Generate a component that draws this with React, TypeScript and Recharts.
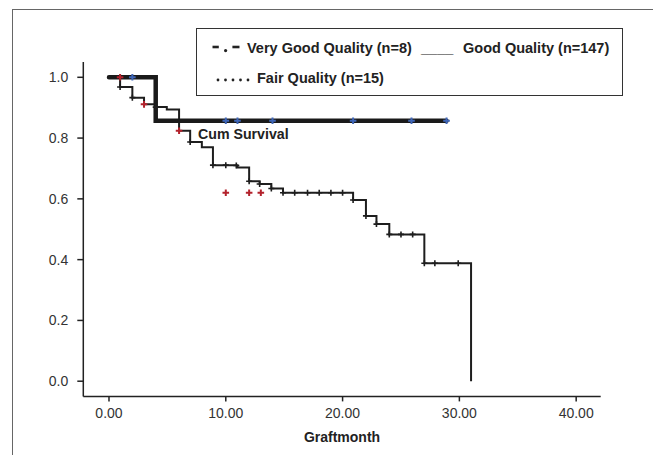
import React from 'react';
import { ComposedChart, Line, Scatter, XAxis, YAxis, Legend, Label } from 'recharts';

// Good Quality (n=147) survival steps
const goodTimes = [0, 0.95, 2, 3, 4, 4.95, 6, 6.95, 7.95, 8.9, 11, 12, 12.9, 13.9, 14.9, 20.9, 22, 22.9, 24, 27, 31];
const goodSurv = [1.0, 0.968, 0.933, 0.911, 0.902, 0.894, 0.824, 0.787, 0.77, 0.711, 0.703, 0.658, 0.649, 0.634, 0.62, 0.596, 0.544, 0.517, 0.483, 0.388, 0];

// Very Good Quality (n=8)
const veryGoodTimes = [0, 4, 28.9];
const veryGoodSurv = [1.0, 0.857, 0.857];

// Censor marks
const goodCensorTimes = [0.95, 2, 4, 6.95, 8.9, 10, 10.9, 12, 12.9, 13.9, 14.9, 15.9, 17, 18, 19, 20, 20.9, 22, 22.9, 24, 25, 26, 27, 27.9, 29.9];
const goodCensorSurv = [0.968, 0.933, 0.902, 0.787, 0.711, 0.711, 0.71, 0.658, 0.649, 0.634, 0.62, 0.62, 0.62, 0.62, 0.62, 0.62, 0.596, 0.544, 0.517, 0.483, 0.483, 0.483, 0.388, 0.388, 0.388];

const veryGoodCensorTimes = [2, 10, 11, 14, 20.9, 25.9, 28.9];
const veryGoodCensorSurv = [1.0, 0.857, 0.857, 0.857, 0.857, 0.857, 0.857];

const fairCensorTimes = [0.95, 3, 6, 10, 12, 13];
const fairCensorSurv = [1.0, 0.911, 0.824, 0.62, 0.62, 0.62];

const xTicks = [0, 10, 20, 30, 40];
const yTicks = [0, 0.2, 0.4, 0.6, 0.8, 1.0];

const zip = (ts: number[], ss: number[]) => ts.map((t, i) => ({ t, s: ss[i] }));

const goodData = zip(goodTimes, goodSurv);
const veryGoodData = zip(veryGoodTimes, veryGoodSurv);
const goodCensorData = zip(goodCensorTimes, goodCensorSurv);
const veryGoodCensorData = zip(veryGoodCensorTimes, veryGoodCensorSurv);
const fairCensorData = zip(fairCensorTimes, fairCensorSurv);

const FONT = '"Liberation Sans", Arial, Helvetica, sans-serif';

const makeCross = (color: string, size: number, sw: number) => (props: any) => {
  const { cx, cy } = props;
  if (cx == null || cy == null) return <g />;
  return (
    <path
      d={`M${cx - size},${cy}H${cx + size}M${cx},${cy - size}V${cy + size}`}
      stroke={color}
      strokeWidth={sw}
      fill="none"
    />
  );
};

const txt: React.CSSProperties = {
  position: 'absolute',
  fontFamily: FONT,
  fontWeight: 700,
  fontSize: 14.5,
  lineHeight: '16px',
  color: '#222',
  whiteSpace: 'nowrap',
};

const renderLegend = () => (
  <div
    style={{
      position: 'relative',
      width: 427,
      height: 68,
      border: '1.5px solid #333',
      boxSizing: 'border-box',
      background: '#fff',
    }}
  >
    <svg style={{ position: 'absolute', left: 15, top: 14 }} width={32} height={12}>
      <line x1={0.5} y1={4} x2={6.8} y2={4} stroke="#222" strokeWidth={2.6} />
      <circle cx={13.6} cy={7.6} r={1.6} fill="#222" />
      <line x1={20.4} y1={4} x2={27.5} y2={4} stroke="#222" strokeWidth={2.6} />
    </svg>
    <span style={{ ...txt, left: 50, top: 11 }}>Very Good Quality (n=8)</span>
    <span style={{ ...txt, left: 224, top: 11 }}>____</span>
    <span style={{ ...txt, left: 266, top: 11 }}>Good Quality (n=147)</span>
    <svg style={{ position: 'absolute', left: 18, top: 46 }} width={40} height={10}>
      {[0, 1, 2, 3, 4].map((i) => (
        <circle key={i} cx={3 + i * 7.5} cy={5} r={1.4} fill="#222" />
      ))}
    </svg>
    <span style={{ ...txt, left: 60, top: 41 }}>Fair Quality (n=15)</span>
  </div>
);

export default function App() {
  return (
    <div style={{ position: 'relative', width: 653, height: 447, overflow: 'hidden', fontFamily: FONT, background: '#fff' }}>
      <ComposedChart
        width={653}
        height={447}
        margin={{ top: 54.1, right: 60.3, bottom: 8.6, left: 15.3 }}
      >
        <XAxis
          dataKey="t"
          type="number"
          domain={[-2.2, 42.1]}
          ticks={xTicks}
          tickFormatter={(v: number) => v.toFixed(2)}
          height={50}
          tickSize={5}
          tickMargin={7}
          stroke="#222"
          strokeWidth={1.5}
          tick={{ fill: '#333', fontSize: 14, fontFamily: FONT }}
        >
          <Label
            value="Graftmonth"
            position="insideBottom"
            offset={4.4}
            style={{ fontWeight: 700, fontSize: 14, fill: '#222', fontFamily: FONT }}
          />
        </XAxis>
        <YAxis
          dataKey="s"
          type="number"
          domain={[-0.05, 1.05]}
          ticks={yTicks}
          tickFormatter={(v: number) => v.toFixed(1)}
          width={60}
          tickSize={6}
          tickMargin={9}
          stroke="#222"
          strokeWidth={1.5}
          tick={{ fill: '#333', fontSize: 14, fontFamily: FONT }}
        />
        <Legend
          layout="horizontal"
          verticalAlign="middle"
          align="center"
          content={renderLegend}
          wrapperStyle={{ position: 'absolute', left: 188, top: 20, width: 427, height: 68 }}
        />
        <Line
          data={goodData}
          dataKey="s"
          type="stepAfter"
          stroke="#1e1e1e"
          strokeWidth={2}
          dot={false}
          activeDot={false}
          isAnimationActive={false}
          legendType="none"
        />
        <Line
          data={veryGoodData}
          dataKey="s"
          type="stepAfter"
          stroke="#1a1a1a"
          strokeWidth={4.5}
          strokeLinecap="round"
          dot={false}
          activeDot={false}
          isAnimationActive={false}
          legendType="none"
        />
        <Scatter
          data={goodCensorData}
          dataKey="s"
          shape={makeCross('#1e1e1e', 3, 1.6)}
          isAnimationActive={false}
          legendType="none"
        />
        <Scatter
          data={veryGoodCensorData}
          dataKey="s"
          shape={makeCross('#3f66b8', 3.3, 2)}
          isAnimationActive={false}
          legendType="none"
        />
        <Scatter
          data={fairCensorData}
          dataKey="s"
          shape={makeCross('#b3222c', 3.3, 2)}
          isAnimationActive={false}
          legendType="none"
        />
      </ComposedChart>
      <div style={{ ...txt, fontSize: 14.2, left: 190, top: 118 }}>Cum Survival</div>
      <div
        style={{
          position: 'absolute',
          left: 4,
          top: 1,
          width: 644,
          height: 470,
          border: '1.5px solid #666',
          boxSizing: 'border-box',
          pointerEvents: 'none',
        }}
      />
    </div>
  );
}
